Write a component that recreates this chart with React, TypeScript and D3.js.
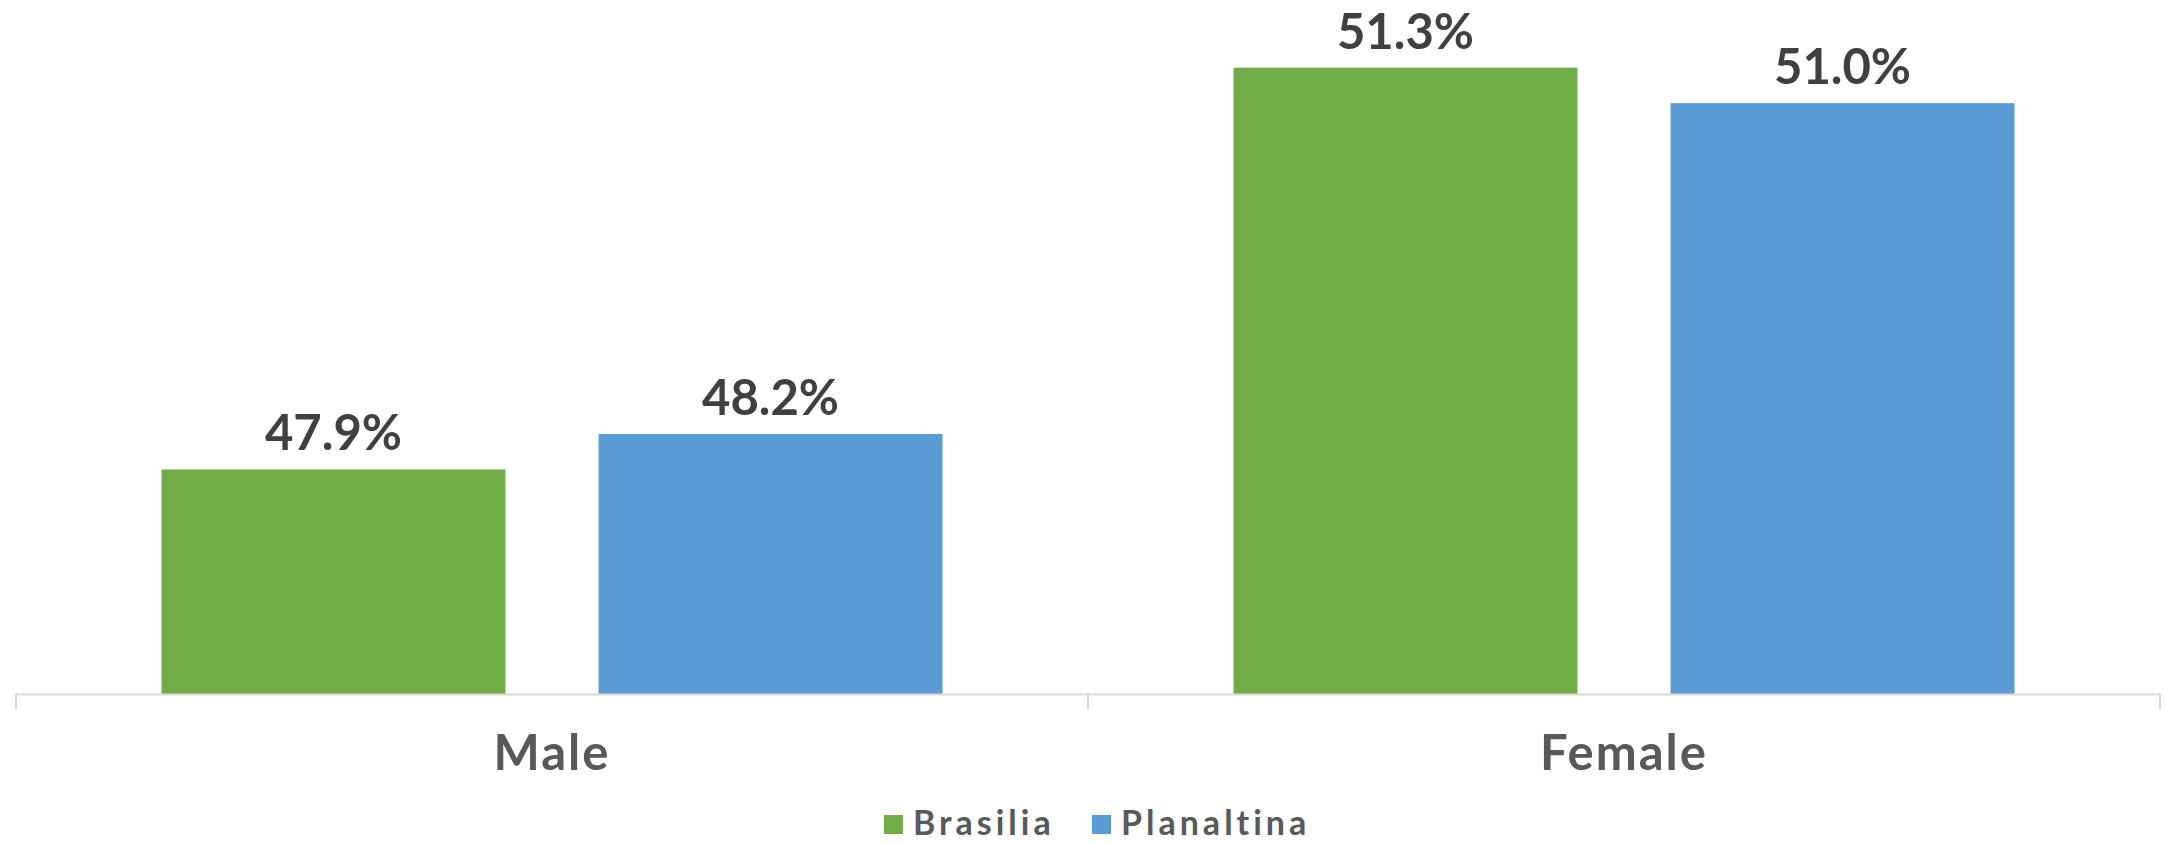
import React, { useEffect, useRef } from 'react';
import * as d3 from 'd3';

const categories = ['Male', 'Female'];
const seriesNames = ['Brasilia', 'Planaltina'];
const brasilia = [47.9, 51.3];
const planaltina = [48.2, 51.0];
const colors = ['#70AD47', '#5B9BD5'];

const App: React.FC = () => {
  const svgRef = useRef<SVGSVGElement>(null);

  useEffect(() => {
    document.body.style.margin = '0';
    if (!svgRef.current) return;

    const width = 2175;
    const height = 843;
    const font = 'Lato, "Open Sans", sans-serif';

    const svg = d3.select(svgRef.current);
    svg.selectAll('*').remove();

    const x0 = d3.scaleBand<string>()
      .domain(categories)
      .range([16, 2160])
      .paddingInner(0)
      .paddingOuter(0);

    const x1 = d3.scaleBand<string>()
      .domain(seriesNames)
      .range([0, x0.bandwidth()])
      .paddingInner(0.213)
      .paddingOuter(0.333);

    // axis min is 46%, bars measured against a 694px baseline
    const y = d3.scaleLinear().domain([46, 52]).range([694, -15]);

    const series = [brasilia, planaltina];

    const groups = svg.append('g');
    categories.forEach((cat, ci) => {
      const g = groups.append('g').attr('transform', `translate(${x0(cat)},0)`);
      seriesNames.forEach((name, si) => {
        const v = series[si][ci];
        g.append('rect')
          .attr('x', x1(name)!)
          .attr('y', y(v))
          .attr('width', x1.bandwidth())
          .attr('height', y(46) - y(v))
          .attr('fill', colors[si]);
        g.append('text')
          .attr('x', x1(name)! + x1.bandwidth() / 2)
          .attr('y', y(v) - 19)
          .attr('text-anchor', 'middle')
          .attr('fill', '#404040')
          .attr('font-size', 49)
          .attr('font-weight', 700)
          .style('font-family', font)
          .text(v.toFixed(1) + '%');
      });
    });

    // category axis
    const axis = svg.append('g');
    axis.append('line')
      .attr('x1', x0.range()[0]).attr('x2', x0.range()[1])
      .attr('y1', 694.5).attr('y2', 694.5)
      .attr('stroke', '#D9D9D9').attr('stroke-width', 2);
    const tickXs = [...categories.map(c => x0(c)!), x0.range()[1]];
    tickXs.forEach(tx => {
      axis.append('line')
        .attr('x1', tx).attr('x2', tx)
        .attr('y1', 694).attr('y2', 710)
        .attr('stroke', '#D9D9D9').attr('stroke-width', 2);
    });
    categories.forEach(cat => {
      axis.append('text')
        .attr('x', x0(cat)! + x0.bandwidth() / 2)
        .attr('y', 770)
        .attr('text-anchor', 'middle')
        .attr('fill', '#595959')
        .attr('font-size', 49)
        .attr('font-weight', 700)
        .attr('letter-spacing', 2)
        .style('font-family', font)
        .text(cat);
    });

    // legend
    const legend = svg.append('g');
    const legendX = [884, 1092];
    seriesNames.forEach((name, i) => {
      legend.append('rect')
        .attr('x', legendX[i]).attr('y', 815)
        .attr('width', 19).attr('height', 19)
        .attr('fill', colors[i]);
      legend.append('text')
        .attr('x', legendX[i] + 29)
        .attr('y', 835)
        .attr('fill', '#595959')
        .attr('font-size', 34)
        .attr('font-weight', 700)
        .attr('letter-spacing', 4)
        .style('font-family', font)
        .text(name);
    });

    svg.attr('width', width).attr('height', height);
  }, []);

  return <svg ref={svgRef} width={2175} height={843} style={{ display: 'block', background: '#fff' }} />;
};

export default App;
